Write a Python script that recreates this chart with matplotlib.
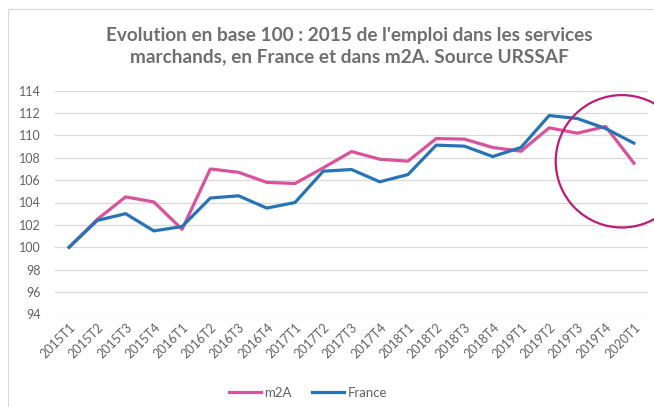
import matplotlib
matplotlib.use("Agg")
import matplotlib.pyplot as plt
from matplotlib.patches import Circle, Rectangle

plt.rcParams['font.family'] = ['Lato', 'DejaVu Sans']

quarters = ['2015T1', '2015T2', '2015T3', '2015T4',
            '2016T1', '2016T2', '2016T3', '2016T4',
            '2017T1', '2017T2', '2017T3', '2017T4',
            '2018T1', '2018T2', '2018T3', '2018T4',
            '2019T1', '2019T2', '2019T3', '2019T4',
            '2020T1']
m2a = [100.0, 102.5, 104.5, 104.05, 101.6, 107.0, 106.7, 105.8, 105.7, 107.1,
       108.56, 107.87, 107.7, 109.72, 109.67, 108.92, 108.59, 110.68, 110.2,
       110.8, 107.52]
france = [100.0, 102.4, 103.0, 101.46, 101.85, 104.4, 104.6, 103.5, 104.0, 106.8,
          106.95, 105.85, 106.5, 109.13, 109.04, 108.11, 108.92, 111.78, 111.51,
          110.62, 109.31]
yticks = list(range(94, 115, 2))

PINK = '#DA519C'
BLUE = '#2673B6'
GREY = '#626262'

fig = plt.figure(figsize=(6.54, 4.07), dpi=100)
ax = fig.add_axes([55 / 654, 1 - 314.3 / 407, (648 - 55) / 654, (314.3 - 90.7) / 407])

x = list(range(len(quarters)))
ax.plot(x, m2a, color=PINK, lw=2.3, label='m2A', solid_joinstyle='round', zorder=3)
ax.plot(x, france, color=BLUE, lw=2.3, label='France', solid_joinstyle='round', zorder=3)

ax.set_xlim(-0.5, len(quarters) - 0.5)
ax.set_ylim(94, 114)
ax.set_yticks(yticks)
ax.set_yticklabels([str(v) for v in yticks])
ax.set_xticks(x)
ax.set_xticklabels(quarters, rotation=45, ha='right', va='top', rotation_mode='anchor')
ax.tick_params(axis='both', length=0, labelsize=9, colors=GREY)
ax.tick_params(axis='y', pad=10)
ax.tick_params(axis='x', pad=5)
ax.grid(axis='y', color='#D9D9D9', lw=0.9)
ax.set_axisbelow(True)
for s in ax.spines.values():
    s.set_visible(False)

fig.text(349 / 654, 1 - 46 / 407,
         "Evolution en base 100 : 2015 de l'emploi dans les services\n"
         "marchands, en France et dans m2A. Source URSSAF",
         ha='center', va='center', fontsize=13.7, fontweight='bold', color='#6F6F6F',
         linespacing=1.3)

leg = fig.legend(loc='center', bbox_to_anchor=(308 / 654, 1 - 393 / 407), ncol=2,
                 frameon=False, fontsize=9.5, handlelength=2.4, columnspacing=1.5,
                 handletextpad=0.3)
for t in leg.get_texts():
    t.set_color(GREY)

# chart frame (cropped on the right and bottom)
fig.add_artist(Rectangle((8 / 654, -0.1), 1.2, 1 - 9 / 407 + 0.1,
                         transform=fig.transFigure, fill=False,
                         edgecolor='#D9D9D9', lw=0.9))

# highlight circle
fig.add_artist(Circle((6.219, (407 - 161.3) / 100), 0.662,
                      transform=fig.dpi_scale_trans, fill=False,
                      edgecolor='#BE1B77', lw=1.6, zorder=5))

fig.savefig('out.png', dpi=100)
